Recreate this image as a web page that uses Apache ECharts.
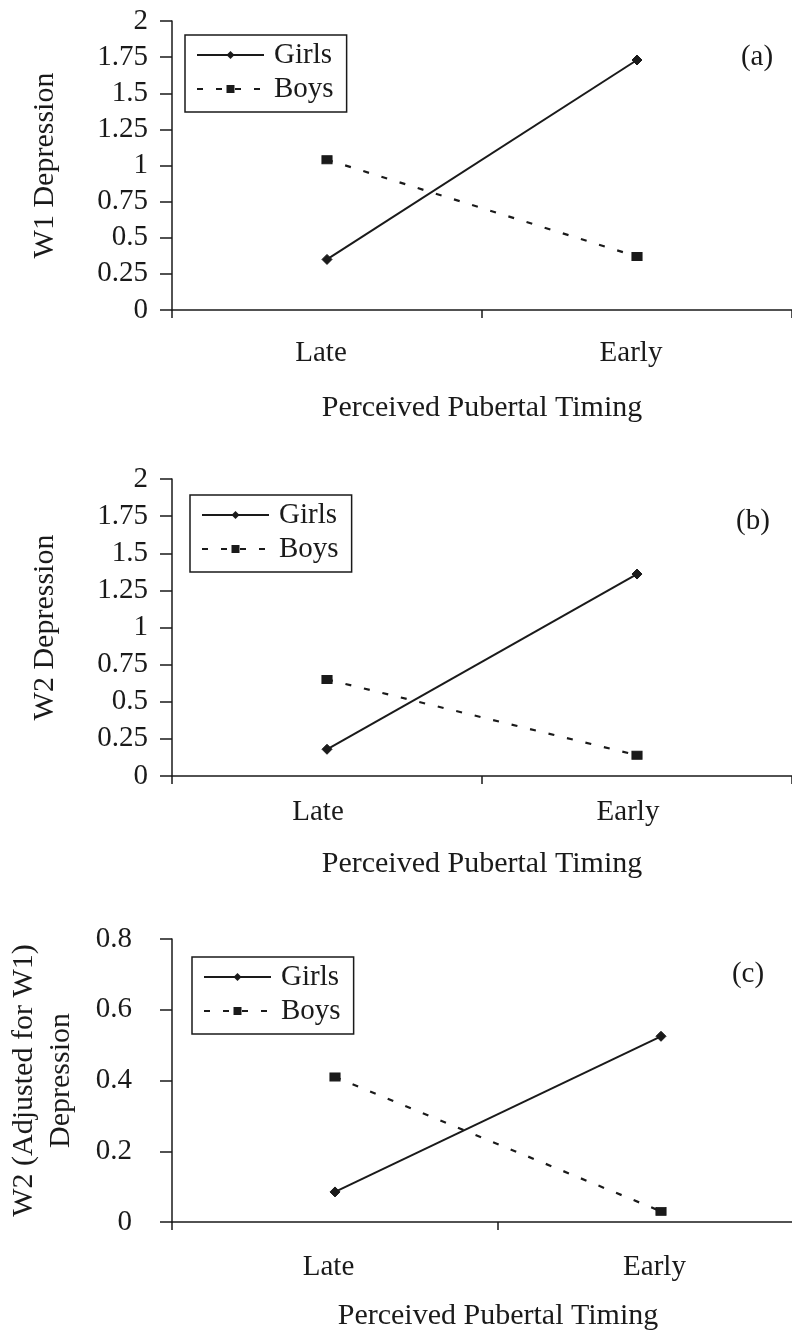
<!DOCTYPE html>
<html>
<head>
<meta charset="utf-8">
<script src="https://cdn.jsdelivr.net/npm/echarts@6/dist/echarts.min.js"></script>
<style>
html,body{margin:0;padding:0;background:#fff;}
#chart{width:792px;height:1332px;}
</style>
</head>
<body>
<div id="chart"></div>
<script>
// ---- data ----
const categories = ['Late', 'Early'];
const girlsW1 = [0.35, 1.73];
const boysW1 = [1.04, 0.37];
const girlsW2 = [0.18, 1.36];
const boysW2 = [0.65, 0.14];
const girlsAdj = [0.085, 0.525];
const boysAdj = [0.41, 0.03];
const panelLabels = ['(a)', '(b)', '(c)'];
const yNames = ['W1 Depression', 'W2 Depression', 'W2 (Adjusted for W1)\nDepression'];
const xName = 'Perceived Pubertal Timing';

// ---- styling ----
const FONT = 'Liberation Serif';
const INK = '#1a1a1a';
const FS = 29;
const FS_NAME = 30;

const chart = echarts.init(document.getElementById('chart'), null, {renderer: 'canvas'});

const grids = [
  {left: 172, top: 21, width: 620, height: 289, outerBoundsMode: 'none', containLabel: false},
  {left: 172, top: 479, width: 620, height: 297, outerBoundsMode: 'none', containLabel: false},
  {left: 172, top: 939, width: 652, height: 283, outerBoundsMode: 'none', containLabel: false}
];
const yRanges = [
  {max: 2, interval: 0.25},
  {max: 2, interval: 0.25},
  {max: 0.8, interval: 0.2}
];
const xLabelMargin = [28, 21, 30];
const xLabelPadRight = [12, 18, 13];
const xNameGap = [83, 73, 79];
const yLabelMargin = [24, 24, 40];
const yNameGap = [112, 112, 92];
const legendTops = [35, 495, 957];
const legendLefts = [185, 190, 192];
const panelPos = [[757, 57], [753, 521], [748, 974]];

const seriesData = [[girlsW1, boysW1], [girlsW2, boysW2], [girlsAdj, boysAdj]];

const xAxis = [], yAxis = [], series = [], legend = [], graphic = [];
for (let i = 0; i < 3; i++) {
  xAxis.push({
    type: 'category', gridIndex: i, data: categories, boundaryGap: true,
    name: xName, nameLocation: 'middle', nameGap: xNameGap[i],
    nameTextStyle: {fontFamily: FONT, fontSize: FS_NAME, color: INK, lineHeight: 30},
    axisLine: {show: true, lineStyle: {color: INK, width: 1.5}},
    axisTick: {show: true, inside: false, length: 8, alignWithLabel: false, interval: 0, lineStyle: {color: INK, width: 1.5}},
    axisLabel: {fontFamily: FONT, fontSize: FS, color: INK, margin: xLabelMargin[i], lineHeight: 30,
      padding: [0, xLabelPadRight[i], 0, 0]},
    splitLine: {show: false}
  });
  yAxis.push({
    type: 'value', gridIndex: i, min: 0, max: yRanges[i].max, interval: yRanges[i].interval,
    name: yNames[i], nameLocation: 'middle', nameGap: yNameGap[i],
    nameTextStyle: {fontFamily: FONT, fontSize: FS_NAME, color: INK, lineHeight: i === 2 ? 37 : 30, align: 'center'},
    axisLine: {show: true, onZero: false, lineStyle: {color: INK, width: 1.5}},
    axisTick: {show: true, inside: false, length: 12, lineStyle: {color: INK, width: 1.5}},
    axisLabel: {fontFamily: FONT, fontSize: FS, color: INK, margin: yLabelMargin[i]},
    splitLine: {show: false}
  });
  const [g, b] = seriesData[i];
  series.push({
    name: 'Girls', type: 'line', xAxisIndex: i, yAxisIndex: i, data: g,
    symbol: 'diamond', symbolSize: [10, 10], showAllSymbol: true,
    lineStyle: {color: INK, width: 2, type: 'solid'},
    itemStyle: {color: INK, borderColor: INK},
    emphasis: {disabled: true}, animation: false
  });
  series.push({
    name: 'Boys', type: 'line', xAxisIndex: i, yAxisIndex: i, data: b,
    symbol: 'rect', symbolSize: [10, 8], showAllSymbol: true,
    lineStyle: {color: INK, width: 2.2, type: [6, 13]},
    itemStyle: {color: INK, borderColor: INK},
    emphasis: {disabled: true}, animation: false
  });
  legend.push({
    data: ['Girls', 'Boys'], orient: 'vertical', left: legendLefts[i], top: legendTops[i],
    padding: [5, 13, 8, 11], itemGap: 4, itemWidth: 67, itemHeight: 10,
    borderColor: INK, borderWidth: 1.5, backgroundColor: '#fff',
    selectedMode: false,
    textStyle: {fontFamily: FONT, fontSize: FS, color: INK, lineHeight: 30, padding: [0, 0, 0, 5]}
  });
  graphic.push({
    type: 'text', x: panelPos[i][0], y: panelPos[i][1], silent: true,
    style: {text: panelLabels[i], font: FS + 'px "' + FONT + '"', fill: INK, textAlign: 'center', textVerticalAlign: 'middle'}
  });
}

chart.setOption({
  backgroundColor: '#fff',
  animation: false,
  grid: grids,
  xAxis: xAxis,
  yAxis: yAxis,
  series: series,
  legend: legend,
  graphic: graphic,
  textStyle: {fontFamily: FONT}
});
</script>
</body>
</html>
